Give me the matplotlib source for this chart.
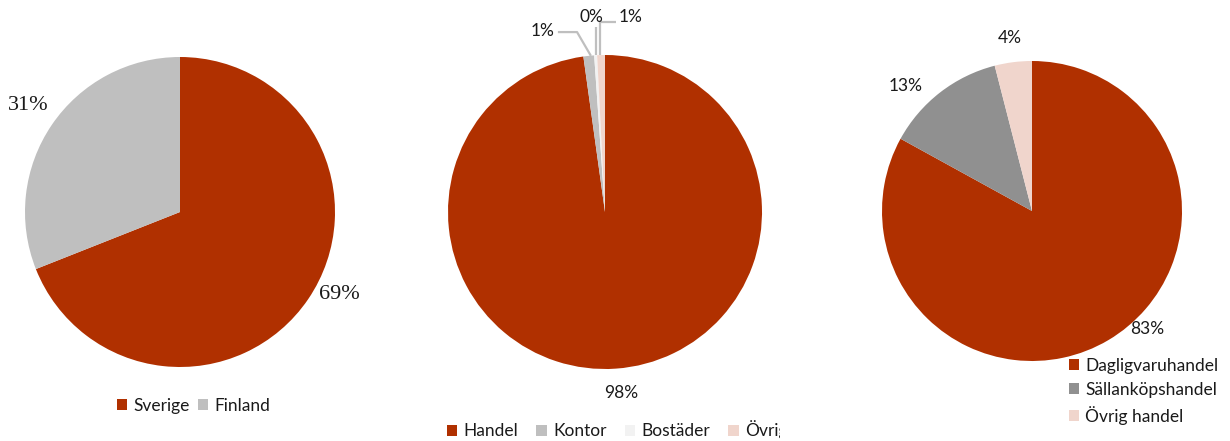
import matplotlib
matplotlib.use("Agg")
import matplotlib.pyplot as plt
from matplotlib.transforms import Bbox, TransformedBbox

W, H = 1230, 441
fig = plt.figure(figsize=(W / 100, H / 100), dpi=100)

# ---------------- data ----------------
land_labels = ["Sverige", "Finland"]
land_values = [69, 31]

typ_labels = ["Handel", "Kontor", "Bostäder", "Övrigt"]
typ_values = [97.8, 1.1, 0.3, 0.8]

handel_labels = ["Dagligvaruhandel", "Sällanköpshandel", "Övrig handel"]
handel_values = [83, 13, 4]

# ---------------- style ----------------
RED = "#B03000"
GRAY = "#BFBFBF"
DGRAY = "#909090"
LIGHT = "#F2F2F2"
PINK = "#F0D5CC"
SANS = ["Lato", "DejaVu Sans"]
SERIF = ["Liberation Serif", "DejaVu Serif"]
TXT = "#1a1a1a"

E = 1.6  # axes half-extent in units of pie radius


def pie_axes(cx, cy, r):
    ax = fig.add_axes([(cx - E * r) / W, (H - cy - E * r) / H, 2 * E * r / W, 2 * E * r / H])
    ax.axis("off")
    return ax


def fix_limits(ax):
    ax.set_xlim(-E, E)
    ax.set_ylim(-E, E)
    ax.set_aspect("equal")


def pct(v, tot):
    return f"{round(100 * v / tot):.0f}%"


# ---------------- pie 1 ----------------
ax1 = pie_axes(180, 212, 155)
w1, _ = ax1.pie(land_values, colors=[RED, GRAY], startangle=90, counterclock=False,
                radius=1, wedgeprops=dict(linewidth=0))
fix_limits(ax1)
tot1 = sum(land_values)
pos1 = [(1.03, -0.535), (-0.98, 0.69)]
for v, p in zip(land_values, pos1):
    ax1.text(p[0], p[1], pct(v, tot1), ha="center", va="center", fontsize=16,
             family=SERIF, color=TXT)

# ---------------- pie 2 ----------------
ax2 = pie_axes(605, 212, 157)
w2, _ = ax2.pie(typ_values, colors=[RED, GRAY, LIGHT, PINK], startangle=90, counterclock=False,
                radius=1, wedgeprops=dict(linewidth=0))
fix_limits(ax2)
tot2 = sum(typ_values)
pos2 = [(0.1, -1.15), (-0.40, 1.155), (-0.086, 1.245), (0.165, 1.245)]
for v, p in zip(typ_values, pos2):
    ax2.text(p[0], p[1], pct(v, tot2), ha="center", va="center", fontsize=12.5,
             family=SANS, color=TXT)
# leader lines
lc = dict(color="#BFBFBF", lw=1.6, solid_capstyle="butt")
ax2.plot([-0.09, -0.178, -0.30], [0.995, 1.146, 1.146], **lc)
ax2.plot([-0.057, -0.057], [0.998, 1.18], **lc)
ax2.plot([-0.032, -0.032, 0.07], [0.999, 1.21, 1.21], **lc)

# ---------------- pie 3 ----------------
ax3 = pie_axes(1032, 211, 150)
w3, _ = ax3.pie(handel_values, colors=[RED, DGRAY, PINK], startangle=90, counterclock=False,
                radius=1, wedgeprops=dict(linewidth=0))
fix_limits(ax3)
tot3 = sum(handel_values)
pos3 = [(0.77, -0.79), (-0.84, 0.83), (-0.147, 1.155)]
for v, p in zip(handel_values, pos3):
    ax3.text(p[0], p[1], pct(v, tot3), ha="center", va="center", fontsize=12.5,
             family=SANS, color=TXT)

# ---------------- legends ----------------
legkw = dict(frameon=False, handlelength=0.6, handleheight=0.6, handletextpad=0.35,
             borderpad=0, borderaxespad=0, prop=dict(family=SANS, size=12.5),
             labelcolor=TXT)

l1 = fig.legend(w1, land_labels, loc="center left", bbox_to_anchor=(117 / W, 1 - 406 / H),
                ncol=2, columnspacing=0.45, **legkw)

l2 = fig.legend(w2, typ_labels, loc="center left", bbox_to_anchor=(447 / W, 1 - 430 / H),
                ncol=4, columnspacing=1.05, **legkw)
clip = TransformedBbox(Bbox([[0, 0], [780 / W, 1]]), fig.transFigure)
for t in l2.get_texts():
    t.set_clip_box(clip)
    t.set_clip_on(True)

l3 = fig.legend(w3, handel_labels, loc="upper left", bbox_to_anchor=(1069 / W, 1 - 358 / H),
                ncol=1, labelspacing=0.45, **legkw)

fig.savefig("out.png", dpi=100, facecolor="white")
